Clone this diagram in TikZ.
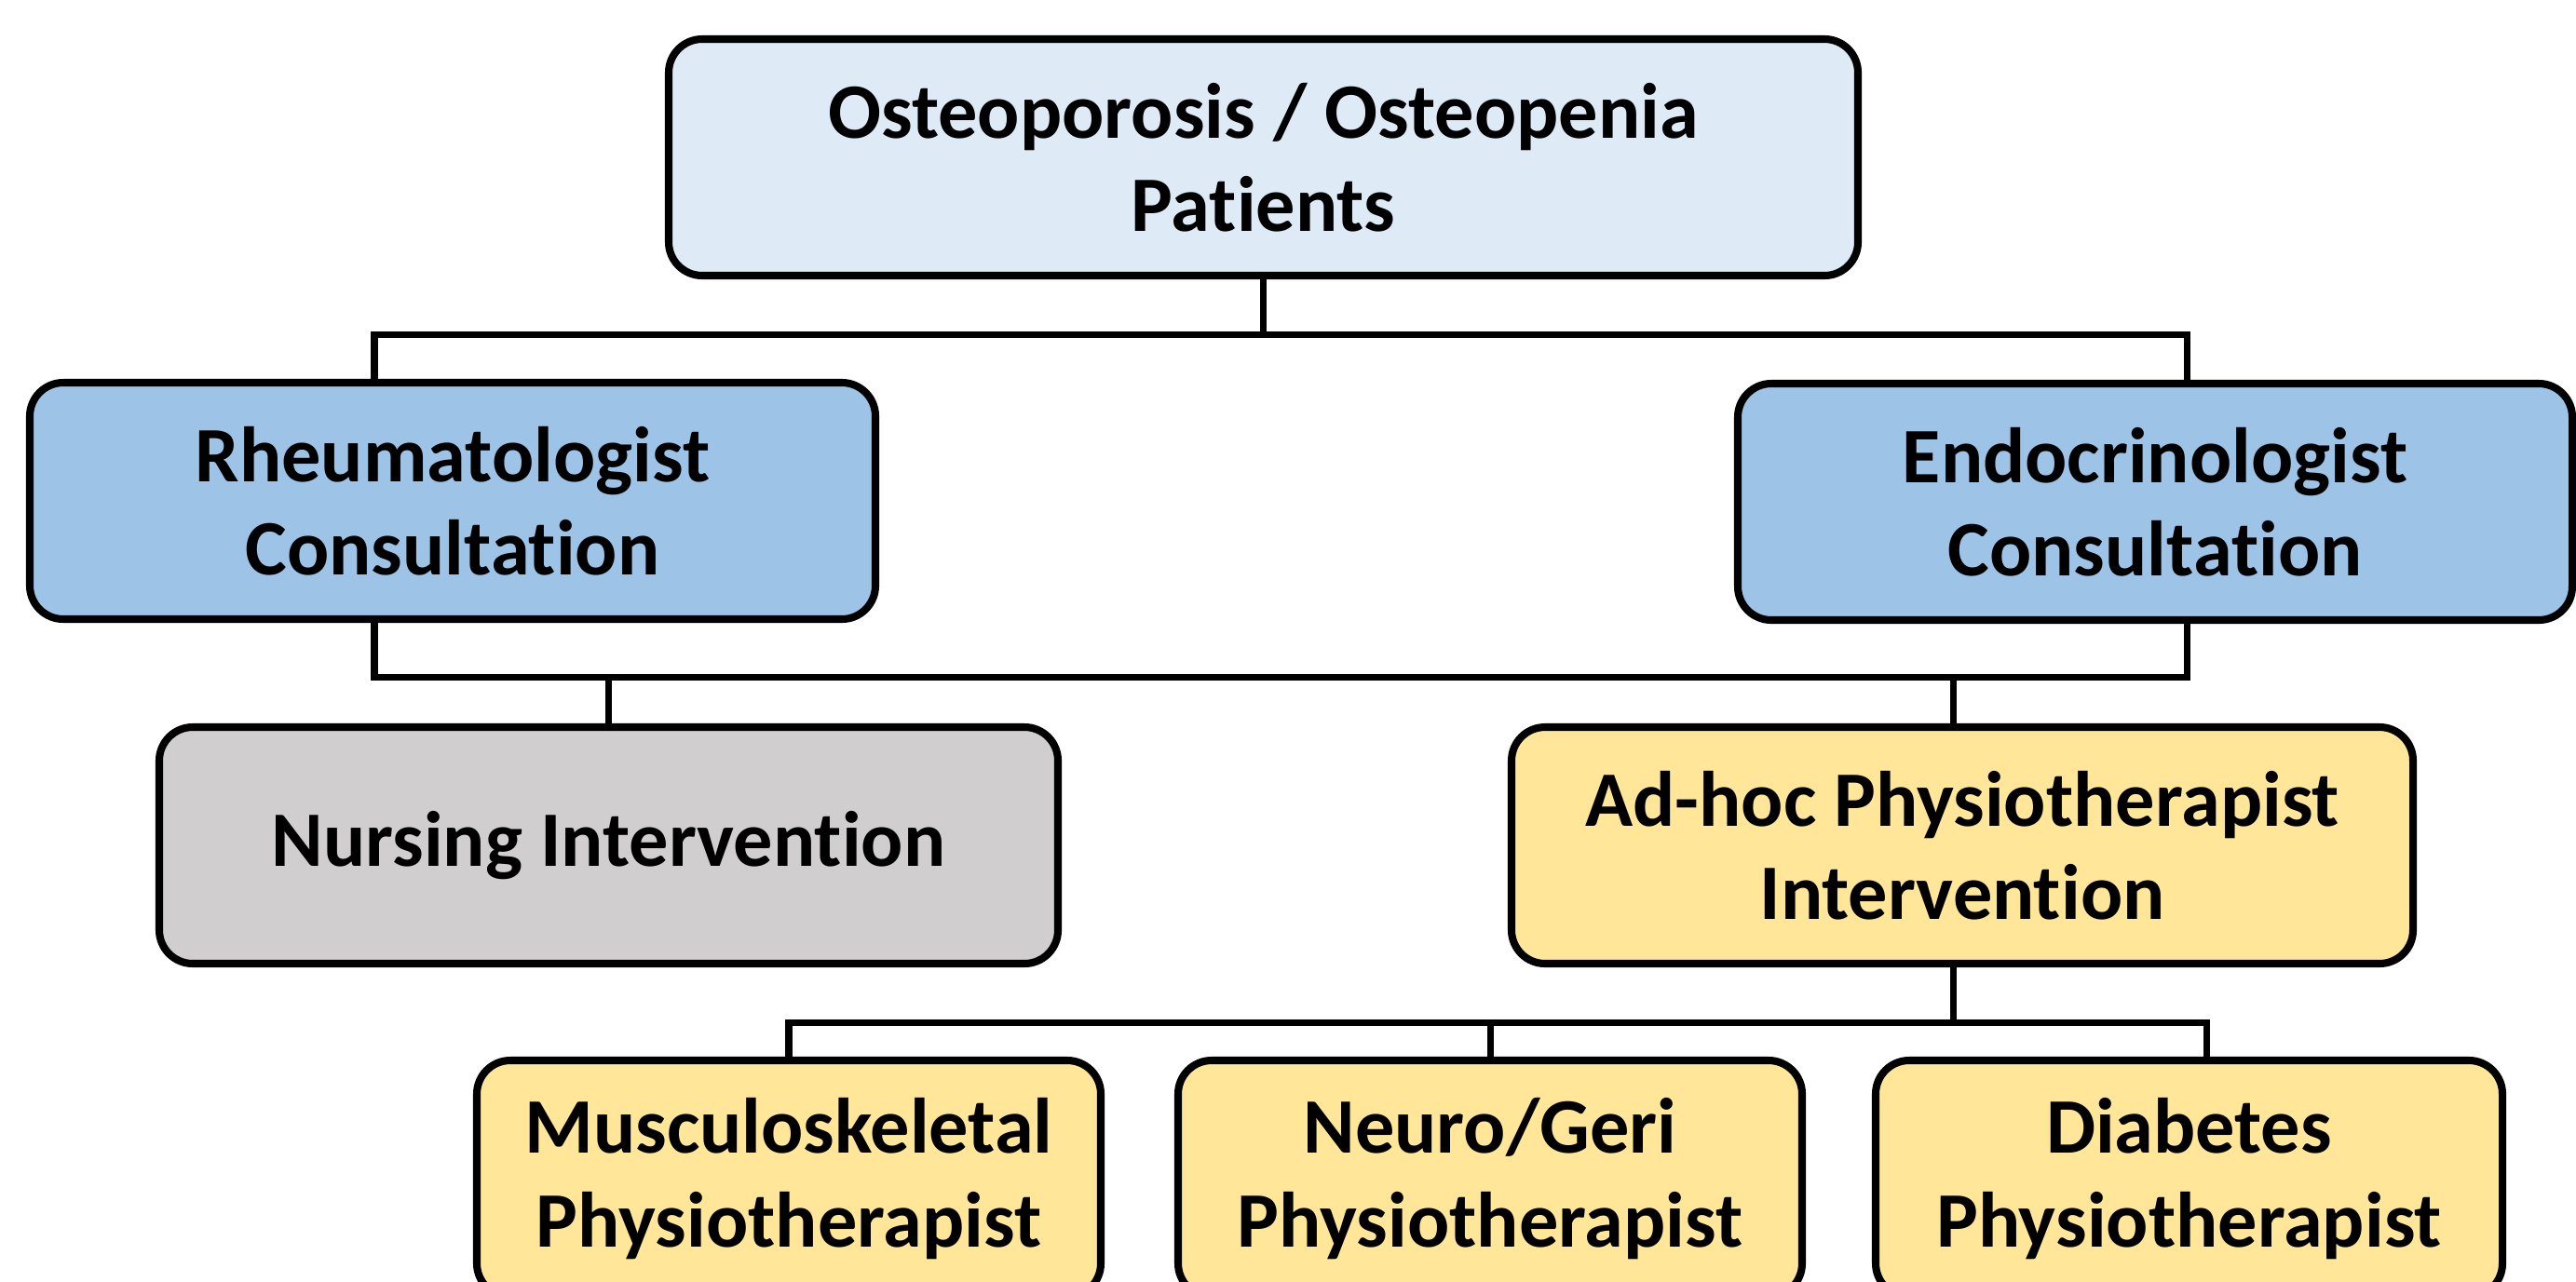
\documentclass[tikz,border=0pt]{standalone}
\usepackage{fontspec}
\setmainfont{Carlito}[Ligatures={NoCommon,NoDiscretionary}]
\usetikzlibrary{positioning, calc}

\definecolor{patblue}{HTML}{DEEBF7}
\definecolor{docblue}{HTML}{9DC3E6}
\definecolor{nursegray}{HTML}{D0CECE}
\definecolor{physyellow}{HTML}{FFE699}

\tikzset{
  careBox/.style={draw=black, line width=2.3pt, rounded corners=0.36cm,
    align=center, inner sep=0pt, minimum height=2.54cm,
    font=\bfseries\fontsize{24}{28.5}\selectfont},
  link/.style={line width=2pt}
}

\begin{document}
\begin{tikzpicture}
\clip (0,0) rectangle (27.66,-13.76);

% Patients
\node[careBox, fill=patblue, minimum width=12.77cm] (patients) at (13.565,-1.69)
  {Osteoporosis / Osteopenia\\Patients};

% Consultations
\node[careBox, fill=docblue, minimum width=9.08cm] (rheum) at (4.86,-5.38)
  {Rheumatologist\\Consultation};
\node[careBox, fill=docblue, minimum width=8.96cm] (endo) at (23.14,-5.39)
  {Endocrinologist\\Consultation};

% Interventions
\node[careBox, fill=nursegray, minimum width=9.65cm] (nursing) at (6.535,-9.08)
  {Nursing Intervention};
\node[careBox, fill=physyellow, minimum width=9.68cm] (adhoc) at (21.07,-9.08)
  {Ad-hoc Physiotherapist\\Intervention};

% Physiotherapists
\node[careBox, fill=physyellow, minimum width=6.70cm] (msk) at (8.47,-12.66)
  {Musculoskeletal\\Physiotherapist};
\node[careBox, fill=physyellow, minimum width=6.70cm] (neuro) at (16.00,-12.66)
  {Neuro/Geri\\Physiotherapist};
\node[careBox, fill=physyellow, minimum width=6.73cm] (diab) at (23.505,-12.66)
  {Diabetes\\Physiotherapist};

% drop points
\coordinate (rheumIn) at ($(rheum.north)+(-0.84,0)$);
\coordinate (endoIn) at ($(endo.north)+(0.34,0)$);
\coordinate (rheumOut) at ($(rheum.south)+(-0.84,0)$);
\coordinate (endoOut) at ($(endo.south)+(0.34,0)$);
\coordinate (adhocIn) at ($(adhoc.north)+(-0.10,0)$);
\coordinate (adhocOut) at ($(adhoc.south)+(-0.10,0)$);
\coordinate (diabIn) at ($(diab.north)+(0.19,0)$);

% connectors
\draw[link] (patients.south) -- ++(0,-0.59) coordinate (busA);
\draw[link] (rheumIn) |- (busA) -| (endoIn);
\draw[link] (rheumOut) |- ($(rheumOut)+(0,-0.58)$) coordinate (busB) -| (endoOut);
\draw[link] (busB -| nursing.north) -- (nursing.north);
\draw[link] (busB -| adhocIn) -- (adhocIn);
\draw[link] (adhocOut) -- ++(0,-0.59) coordinate (busC);
\draw[link] (msk.north) |- (busC) -| (diabIn);
\draw[link] (busC -| neuro.north) -- (neuro.north);
\end{tikzpicture}
\end{document}
